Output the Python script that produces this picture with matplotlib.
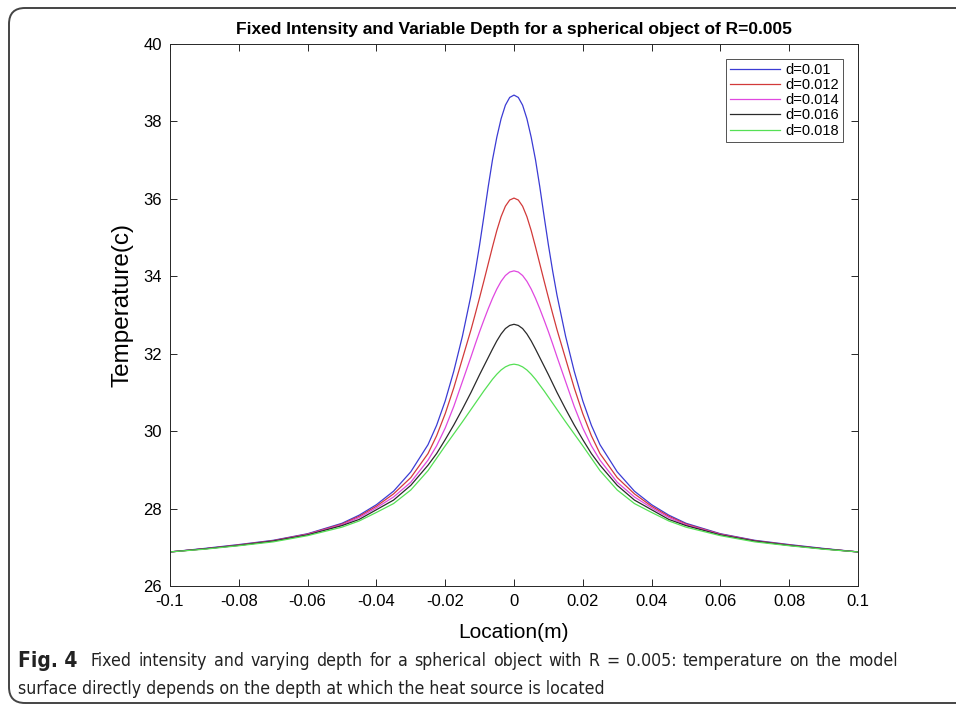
import os
import matplotlib
matplotlib.use("Agg")
import matplotlib.pyplot as plt
from matplotlib import font_manager
from matplotlib.font_manager import FontProperties
from matplotlib.patches import FancyBboxPatch

# location (m) and surface temperature for each source depth
x_half = [0.0, 0.00125, 0.0025, 0.00375, 0.005, 0.00625, 0.0075, 0.00875, 0.01, 0.01125,
          0.0125, 0.015, 0.0175, 0.02, 0.0225, 0.025, 0.03, 0.035, 0.04, 0.045,
          0.05, 0.06, 0.07, 0.08, 0.09, 0.1]
t_d010 = [38.68, 38.62, 38.42, 38.07, 37.59, 37.01, 36.31, 35.55, 34.81, 34.13,
          33.51, 32.45, 31.55, 30.78, 30.15, 29.65, 28.95, 28.45, 28.10, 27.83,
          27.62, 27.35, 27.18, 27.07, 26.97, 26.88]
t_d012 = [36.02, 35.97, 35.81, 35.54, 35.18, 34.76, 34.32, 33.88, 33.45, 33.03,
          32.62, 31.87, 31.12, 30.45, 29.88, 29.42, 28.80, 28.38, 28.06, 27.80,
          27.60, 27.34, 27.17, 27.06, 26.96, 26.88]
t_d014 = [34.14, 34.11, 34.02, 33.87, 33.67, 33.43, 33.16, 32.87, 32.57, 32.25,
          31.92, 31.28, 30.64, 30.08, 29.62, 29.25, 28.68, 28.30, 28.02, 27.77,
          27.58, 27.33, 27.16, 27.05, 26.96, 26.88]
t_d016 = [32.76, 32.73, 32.65, 32.51, 32.33, 32.12, 31.90, 31.68, 31.46, 31.23,
          31.00, 30.57, 30.16, 29.78, 29.42, 29.12, 28.60, 28.22, 27.97, 27.72,
          27.56, 27.32, 27.16, 27.05, 26.96, 26.88]
t_d018 = [31.73, 31.71, 31.66, 31.58, 31.47, 31.34, 31.19, 31.04, 30.88, 30.72,
          30.56, 30.24, 29.93, 29.62, 29.30, 28.98, 28.48, 28.13, 27.90, 27.68,
          27.52, 27.30, 27.14, 27.04, 26.95, 26.88]
labels = ["d=0.01", "d=0.012", "d=0.014", "d=0.016", "d=0.018"]
colors = ["#3b3bd4", "#d23a3a", "#e048e0", "#2a2a2a", "#55e055"]

xticks = [-0.1, -0.08, -0.06, -0.04, -0.02, 0, 0.02, 0.04, 0.06, 0.08, 0.1]
xticklabels = ["-0.1", "-0.08", "-0.06", "-0.04", "-0.02", "0", "0.02", "0.04", "0.06", "0.08", "0.1"]
yticks = [26, 28, 30, 32, 34, 36, 38, 40]

CAPTION_1 = ("Fixed intensity and varying depth for a spherical object with R = 0.005: "
             "temperature on the model")
CAPTION_2 = "surface directly depends on the depth at which the heat source is located"

plt.rcParams["font.family"] = ["Liberation Sans", "DejaVu Sans"]

# caption is set in a condensed face; use one if the system has it
NARROW = ["liberationsansnarrow", "dejavusanscondensed", "robotocondensed",
          "opensans_condensed", "opensans-condensed", "notosans-condensed", "notosanscondensed"]
BAD = ["italic", "oblique", "light", "thin", "medium", "semibold", "extra", "black", "semi"]


def find_narrow(bold):
    for key in NARROW:
        for f in font_manager.fontManager.ttflist:
            fn = os.path.basename(f.fname).lower().replace(" ", "")
            if key in fn and ("bold" in fn) == bold and not any(b in fn.replace("bold", "") for b in BAD):
                return f.fname
    return None


reg_path, bold_path = find_narrow(False), find_narrow(True)
if reg_path:
    cap_reg = FontProperties(fname=reg_path, size=12.7)
    cap_bold = FontProperties(fname=bold_path or reg_path, size=15, weight="bold")
else:
    cap_reg = FontProperties(family="Liberation Sans", size=12.5)
    cap_bold = FontProperties(family="Liberation Sans", size=14, weight="bold")


def mirror(v):
    return v[:0:-1] + v


xs = [-v for v in x_half[:0:-1]] + x_half

fig = plt.figure(figsize=(9.56, 7.06), dpi=100)
ax = fig.add_axes([170 / 956, 1 - 586 / 706, 688 / 956, 542 / 706])
for t, lab, c in zip([t_d010, t_d012, t_d014, t_d016, t_d018], labels, colors):
    ax.plot(xs, mirror(t), color=c, lw=0.9, label=lab)

ax.set_xlim(-0.1, 0.1); ax.set_ylim(26, 40)
ax.set_xticks(xticks); ax.set_xticklabels(xticklabels)
ax.set_yticks(yticks)
ax.tick_params(direction="in", length=5, width=0.7, colors="#262626", labelsize=12,
               top=True, right=True, pad=6, labelcolor="black")
for s in ax.spines.values():
    s.set_color("#262626"); s.set_linewidth(0.7)
ax.set_title("Fixed Intensity and Variable Depth for a spherical object of R=0.005",
             fontsize=12.5, fontweight="bold", pad=7)
ax.set_ylabel("Temperature(c)", fontsize=17.5)
ax.yaxis.set_label_coords(-0.053, 0.518)
ax.set_xlabel("Location(m)", fontsize=15, labelpad=10)
leg = ax.legend(loc="upper right", fontsize=10.5, handlelength=3.4, labelspacing=0.08,
                borderpad=0.3, borderaxespad=1.0, fancybox=False, handletextpad=0.4)
leg.get_frame().set_edgecolor("#262626"); leg.get_frame().set_linewidth(0.7)

# caption: first line set flush to x=898 px, second line ragged
W, H = 956, 706
fig.text(18 / W, 1 - 661 / H, "Fig. 4", fontproperties=cap_bold, va="center", color="#222222")
renderer = fig.canvas.get_renderer()
words = [fig.text(0, 1 - 661 / H, w, fontproperties=cap_reg, va="center", color="#222222")
         for w in CAPTION_1.split(" ")]
widths = [t.get_window_extent(renderer).width for t in words]
gap = (898 - 91 - sum(widths)) / (len(words) - 1)
xpos = 91
for t, w in zip(words, widths):
    t.set_x(xpos / W)
    xpos += w + gap
fig.text(18 / W, 1 - 689 / H, CAPTION_2, fontproperties=cap_reg, va="center", color="#222222")

frame = FancyBboxPatch((0.09, 0.03), 10.0, 6.95, boxstyle="round,pad=0,rounding_size=0.16",
                       transform=fig.dpi_scale_trans, fill=False, ec="#444444", lw=1.4,
                       clip_on=False)
fig.patches.append(frame)

fig.savefig("out.png", dpi=100)
